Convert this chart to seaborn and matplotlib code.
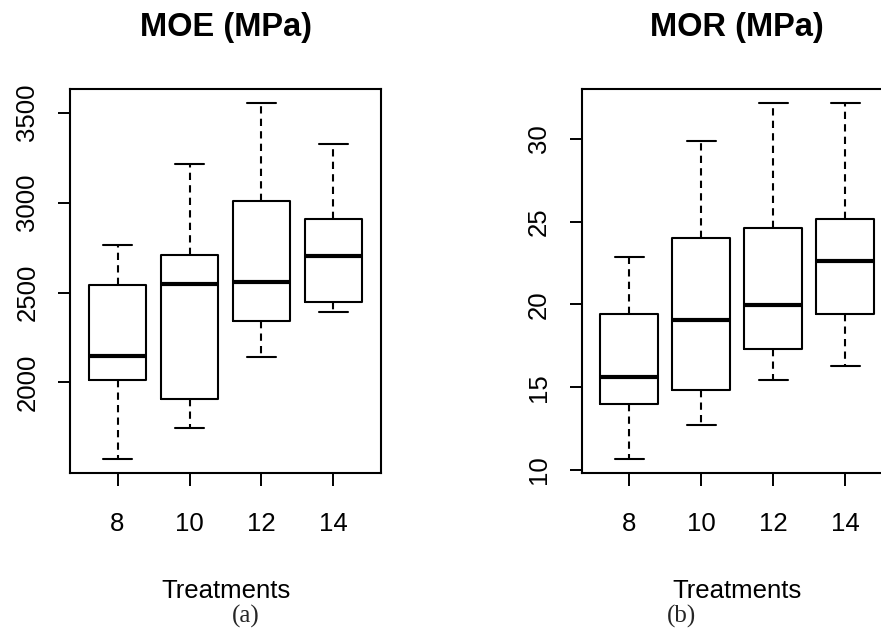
import numpy as np
import pandas as pd
import matplotlib
matplotlib.use("Agg")
import matplotlib.pyplot as plt
import seaborn as sns

# five-number summaries (min, Q1, median, Q3, max)
treatments = ["8", "10", "12", "14"]

moe_min = [1576, 1748, 2143, 2394]
moe_q1 = [2015, 1909, 2342, 2446]
moe_med = [2149, 2545, 2558, 2705]
moe_q3 = [2539, 2710, 3011, 2907]
moe_max = [2762, 3212, 3552, 3327]

mor_min = [10.68, 12.70, 15.42, 16.29]
mor_q1 = [14.01, 14.86, 17.30, 19.44]
mor_med = [15.64, 19.05, 19.96, 22.64]
mor_q3 = [19.44, 24.01, 24.58, 25.14]
mor_max = [22.86, 29.86, 32.14, 32.14]

moe_ticks = [2000, 2500, 3000, 3500]
mor_ticks = [10, 15, 20, 25, 30]


def long_table(mins, q1s, meds, q3s, maxs):
    # five points per group reproduce the quartiles exactly
    rows = []
    for t, a, b, c, d, e in zip(treatments, mins, q1s, meds, q3s, maxs):
        for v in (a, b, c, d, e):
            rows.append({"Treatments": t, "value": v})
    return pd.DataFrame(rows)


sns.set_style("white")
plt.rcParams["font.family"] = ["Liberation Sans", "DejaVu Sans"]

fig = plt.figure(figsize=(8.81, 6.31), dpi=100)
ax1 = fig.add_axes([70 / 881, 1 - 473 / 631, 311 / 881, 384 / 631])
ax2 = fig.add_axes([581.7 / 881, 1 - 473 / 631, 311 / 881, 384 / 631])

panels = [
    (ax1, long_table(moe_min, moe_q1, moe_med, moe_q3, moe_max), "MOE (MPa)", moe_ticks),
    (ax2, long_table(mor_min, mor_q1, mor_med, mor_q3, mor_max), "MOR (MPa)", mor_ticks),
]

for ax, df, title, yt in panels:
    sns.boxplot(
        data=df, x="Treatments", y="value", ax=ax,
        order=treatments, fill=False, color="black", linecolor="black",
        width=0.8, whis=(0, 100), showfliers=False, linewidth=1.5,
        whiskerprops=dict(linestyle=(0, (3.5, 2.5))),
        medianprops=dict(linewidth=3.0),
    )
    lo = min(df["value"])
    hi = max(df["value"])
    pad = (hi - lo) * 0.04
    ax.set_ylim(lo - pad, hi + pad)
    ax.set_xlim(-0.66, 3.66)
    ax.set_yticks(yt)
    ax.set_yticklabels([str(v) for v in yt], rotation=90, va="center")
    ax.set_ylabel("")
    ax.set_xlabel("Treatments", fontsize=18.5, labelpad=31, color="black")
    ax.set_title(title, fontsize=23.5, fontweight="bold", pad=38.5, color="black")
    ax.tick_params(axis="both", direction="out", length=9, width=1.4,
                   bottom=True, left=True,
                   color="black", labelsize=18.5, labelcolor="black")
    ax.tick_params(axis="x", pad=19)
    ax.tick_params(axis="y", pad=13)
    for s in ax.spines.values():
        s.set_visible(True)
        s.set_color("black")
        s.set_linewidth(1.5)

fig.text(245.7 / 881, 1 - 616.7 / 631, "(a)", ha="center", va="center",
         fontsize=18, family=["Liberation Serif", "DejaVu Serif"])
fig.text(681.7 / 881, 1 - 616.7 / 631, "(b)", ha="center", va="center",
         fontsize=18, family=["Liberation Serif", "DejaVu Serif"])

fig.savefig("out.png", dpi=100, facecolor="white")
